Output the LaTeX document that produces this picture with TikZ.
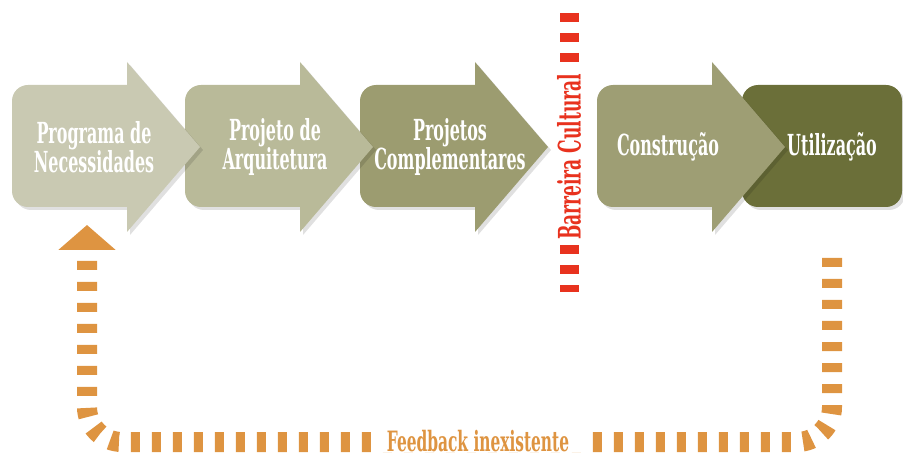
\documentclass[tikz,border=0pt]{standalone}
\usepackage{fontspec}
\newfontfamily\slab{DejaVu Serif}[FakeStretch=0.55]
\usetikzlibrary{arrows.meta,shadows}

\definecolor{stepA}{RGB}{201,201,178}
\definecolor{stepB}{RGB}{185,186,153}
\definecolor{stepC}{RGB}{156,156,112}
\definecolor{stepD}{RGB}{158,158,116}
\definecolor{stepE}{RGB}{107,111,57}
\definecolor{barcolor}{RGB}{232,50,30}
\definecolor{fbcolor}{RGB}{222,148,65}

\begin{document}
\begin{tikzpicture}[x=1pt,y=-1pt,
    steptext/.style={text=white, align=center, font=\slab\bfseries\fontsize{29}{28}\selectfont},
    stepshadow/.style={drop shadow={shadow xshift=3pt, shadow yshift=-3pt, fill=black, opacity=0.12}},
    barrier/.style={draw=barcolor, line width=19pt, dash pattern=on 9pt off 11pt},
    feedback/.style={draw=fbcolor, line width=20pt, dash pattern=on 9pt off 12pt, rounded corners=35pt}]
    \useasboundingbox (0,0) rectangle (903,457);

    % Last box, sits under the arrow before it
    \node[fill=stepE, rounded corners=16pt, minimum width=160pt, minimum height=122pt, stepshadow] (util) at (822,146) {};

    % Arrows, right to left so each head lies on the next body
    \foreach \x/\col/\nm/\dx/\txt in {597/stepD/constr/71/{Construção},
                                     360/stepC/compl/90/{Projetos\\Complementares},
                                     185/stepB/arq/90/{Projeto de\\Arquitetura},
                                     12/stepA/prog/82/{Programa de\\Necessidades}} {
        \fill[\col, stepshadow] (\x+115,85) -- (\x+16,85) arc[start angle=90, end angle=180, radius=16pt]
            -- (\x,191) arc[start angle=180, end angle=270, radius=16pt]
            -- (\x+115,207) -- (\x+115,232) -- (\x+188,147) -- (\x+115,62) -- cycle;
        \node[steptext] (\nm) at (\x+\dx,147) {\txt};
    }
    \node[steptext] (utiltxt) at (832,147) {Utilização};

    % Barrier
    \coordinate (bartop) at (569,13);
    \coordinate (barbot) at (569,292);
    \node[rotate=90, text=barcolor, inner xsep=5pt, font=\slab\bfseries\fontsize{31}{31}\selectfont] (barrier) at (569,157) {Barreira Cultural};
    \draw[barrier] (bartop) -- (barrier.east);
    \draw[barrier] (barrier.west) -- (barbot);

    % Feedback loop
    \coordinate (fbfrom) at (832,258);
    \coordinate (fbto) at (87,225);
    \draw[feedback, -{Triangle[width=56pt,length=25pt]}] (fbfrom) -- (832,442) -- (87,442) -- (fbto);
    \node[fill=white, inner xsep=12pt, inner ysep=0pt, text=fbcolor, font=\slab\bfseries\fontsize{28}{28}\selectfont] (fbtext) at (478,441) {Feedback inexistente};

\end{tikzpicture}
\end{document}
